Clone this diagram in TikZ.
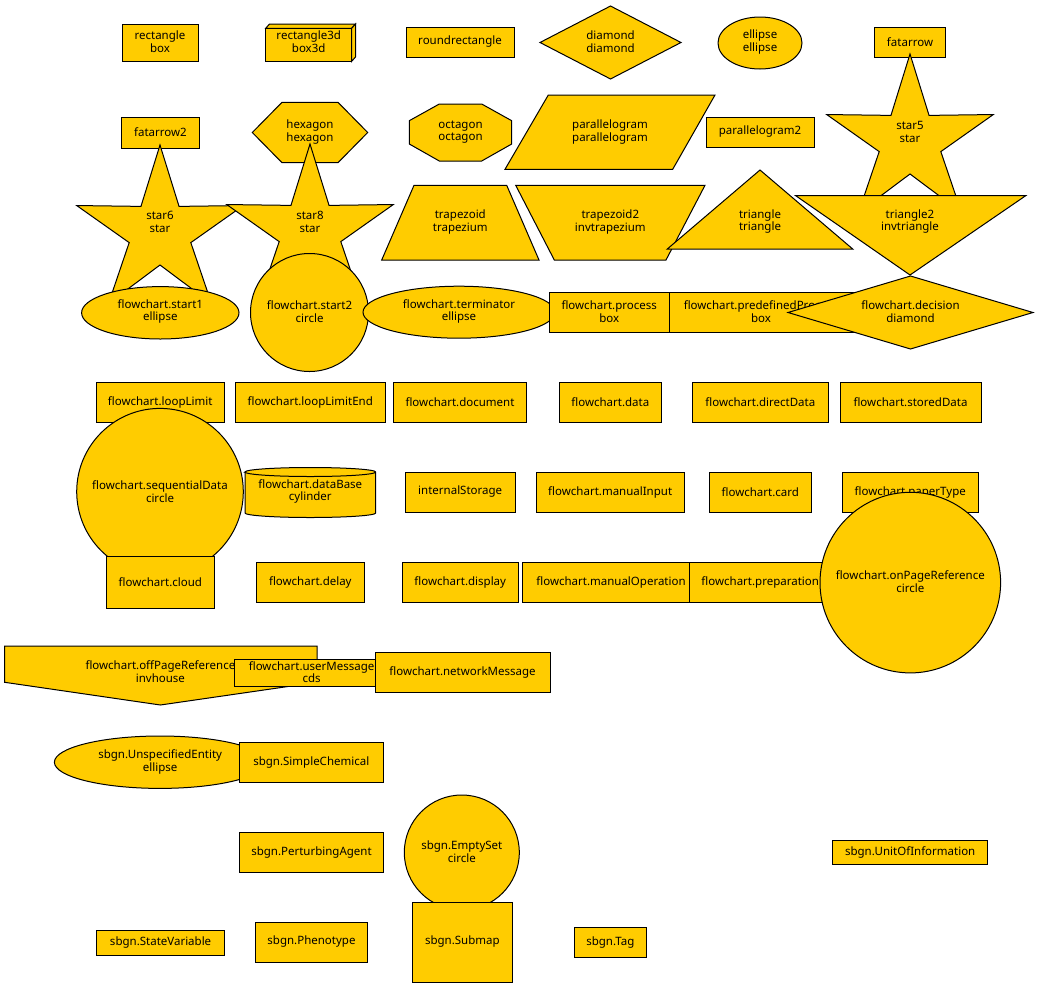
\documentclass[tikz,border=0pt]{standalone}
\usepackage{fontspec}
\setmainfont{Noto Sans}
\definecolor{gold}{HTML}{FFCC00}
\tikzset{
  shp/.style={fill=gold, draw=black, line width=1pt, line join=miter},
  lbl/.style={align=center, inner sep=0pt, text=black, font=\fontsize{11.5}{12.7}\selectfont},
}
\begin{document}
\begin{tikzpicture}[x=1pt,y=-1pt]
\useasboundingbox[fill=white] (0,0) rectangle (1038,988);
% row 1
\filldraw[shp] (122,24) rectangle (198,61.3);
\node[lbl] (t-rect) at (160,42) {rectangle\\box};
\filldraw[shp] (265.7,28.3) rectangle (351.7,61.3);
\filldraw[shp] (265.7,28.3) -- (269.5,24) -- (355.5,24) -- (351.7,28.3) -- cycle;
\filldraw[shp] (351.7,28.3) -- (355.5,24) -- (355.5,57) -- (351.7,61.3) -- cycle;
\node[lbl] (t-rect3d) at (308.7,42) {rectangle3d\\box3d};
\filldraw[shp] (406,27) rectangle (514,57);
\node[lbl] (t-round) at (460,42) {roundrectangle};
\filldraw[shp] (540,42.5) -- (610.5,6) -- (681,42.5) -- (610.5,79) -- cycle;
\node[lbl] (t-diamond) at (610.5,42) {diamond\\diamond};
\filldraw[shp] (760,43) ellipse [x radius=42pt, y radius=26pt];
\node[lbl] (t-ellipse) at (760,42) {ellipse\\ellipse};
\filldraw[shp] (874,27) rectangle (945.7,57.7);
\node[lbl] (t-fat) at (910,42) {fatarrow};
% row 2
\filldraw[shp] (121.7,117) rectangle (199.3,148);
\node[lbl] (t-fat2) at (160.5,132) {fatarrow2};
\filldraw[shp] (252.3,132.5) -- (282,102.3) -- (338,102.3) -- (367.7,132.5) -- (338,162.7) -- (282,162.7) -- cycle;
\node[lbl] (t-hex) at (310,132) {hexagon\\hexagon};
\filldraw[shp] (439.3,104) -- (481.7,104) -- (511.7,120.7) -- (511.7,144) -- (481.7,161) -- (439.3,161) -- (409.3,144) -- (409.3,120.7) -- cycle;
\node[lbl] (t-oct) at (460.5,132) {octagon\\octagon};
\filldraw[shp] (548.3,95) -- (715,95) -- (672.7,169.3) -- (505,169.3) -- cycle;
\node[lbl] (t-par) at (610,132) {parallelogram\\parallelogram};
\filldraw[shp] (706,117.3) rectangle (814.3,147.7);
\node[lbl] (t-par2) at (760,132) {parallelogram2};
\filldraw[shp,shift={(910,141.6)}] (90:87.6pt) -- (126:32.4pt) -- (162:87.6pt) -- (198:32.4pt) -- (234:87.6pt) -- (270:32.4pt) -- (306:87.6pt) -- (342:32.4pt) -- (18:87.6pt) -- (54:32.4pt) -- cycle;
\node[lbl] (t-star5) at (910,132) {star5\\star};
\filldraw[shp,shift={(160,232.6)}] (90:87.6pt) -- (126:32.4pt) -- (162:87.6pt) -- (198:32.4pt) -- (234:87.6pt) -- (270:32.4pt) -- (306:87.6pt) -- (342:32.4pt) -- (18:87.6pt) -- (54:32.4pt) -- cycle;
\node[lbl] (t-star6) at (160,222) {star6\\star};
\filldraw[shp,shift={(310,231.6)}] (90:87.6pt) -- (126:32.4pt) -- (162:87.6pt) -- (198:32.4pt) -- (234:87.6pt) -- (270:32.4pt) -- (306:87.6pt) -- (342:32.4pt) -- (18:87.6pt) -- (54:32.4pt) -- cycle;
\node[lbl] (t-star8) at (310,222) {star8\\star};
% row 3
\filldraw[shp] (414,185.3) -- (506.7,185.3) -- (539,260) -- (381.7,260) -- cycle;
\node[lbl] (t-trap) at (460.3,222) {trapezoid\\trapezium};
\filldraw[shp] (515.7,185.3) -- (705,185.3) -- (666,260) -- (554.3,260) -- cycle;
\node[lbl] (t-trap2) at (610.3,222) {trapezoid2\\invtrapezium};
\filldraw[shp] (760,170) -- (852.7,249) -- (667.3,249) -- cycle;
\node[lbl] (t-tri) at (760,221.5) {triangle\\triangle};
\filldraw[shp] (795.7,195.7) -- (1025.7,195.7) -- (910,275) -- cycle;
\node[lbl] (t-tri2) at (910,221.5) {triangle2\\invtriangle};
% row 4
\filldraw[shp] (160.3,312.8) ellipse [x radius=78.7pt, y radius=26.2pt];
\node[lbl] (t-start1) at (160.3,311.5) {flowchart.start1\\ellipse};
\filldraw[shp] (309.5,312.5) circle [radius=59pt];
\node[lbl] (t-start2) at (309.5,311.5) {flowchart.start2\\circle};
\filldraw[shp] (459,312.2) ellipse [x radius=96pt, y radius=26pt];
\node[lbl] (t-term) at (459,311.5) {flowchart.terminator\\ellipse};
\filldraw[shp] (549.3,292.7) rectangle (669,332.7);
\node[lbl] (t-proc) at (609.2,311.5) {flowchart.process\\box};
\filldraw[shp] (669,292.7) rectangle (853,332.7);
\node[lbl] (t-predef) at (761,311.5) {flowchart.predefinedProcess\\box};
\filldraw[shp] (788,312.5) -- (910.5,276) -- (1033,312.5) -- (910.5,349) -- cycle;
\node[lbl] (t-dec) at (910.5,311.5) {flowchart.decision\\diamond};
% row 5
\filldraw[shp] (96,382.7) rectangle (224.3,422.7);
\node[lbl] (t-loop) at (160.2,402) {flowchart.loopLimit};
\filldraw[shp] (235.7,382.7) rectangle (385,422.7);
\node[lbl] (t-loopend) at (310.3,402) {flowchart.loopLimitEnd};
\filldraw[shp] (393.3,382.7) rectangle (526.7,422.7);
\node[lbl] (t-doc) at (460,402) {flowchart.document};
\filldraw[shp] (559,382.7) rectangle (661.7,422.7);
\node[lbl] (t-data) at (610.3,402) {flowchart.data};
\filldraw[shp] (692.3,382.7) rectangle (828.3,422.7);
\node[lbl] (t-direct) at (760.3,402) {flowchart.directData};
\filldraw[shp] (840,382.7) rectangle (981,422.7);
\node[lbl] (t-stored) at (910.5,402) {flowchart.storedData};
% row 6
\filldraw[shp] (160,491.7) circle [radius=83.3pt];
\node[lbl] (t-seq) at (160,491.5) {flowchart.sequentialData\\circle};
\filldraw[shp] (245,472) -- (245,513) arc [start angle=180, end angle=360, x radius=65.35pt, y radius=4.5pt] -- (375.7,472) arc [start angle=0, end angle=180, x radius=65.35pt, y radius=4.5pt] -- cycle;
\draw[shp,fill=none] (245,472) arc [start angle=180, end angle=360, x radius=65.35pt, y radius=4.5pt];
\node[lbl] (t-db) at (310.3,491.5) {flowchart.dataBase\\cylinder};
\filldraw[shp] (405.3,472.7) rectangle (515,512.7);
\node[lbl] (t-int) at (460.2,492) {internalStorage};
\filldraw[shp] (536,472.7) rectangle (684.3,512.7);
\node[lbl] (t-manin) at (610.2,492) {flowchart.manualInput};
\filldraw[shp] (709,472.7) rectangle (811.7,512.7);
\node[lbl] (t-card) at (760.3,492) {flowchart.card};
\filldraw[shp] (842,472.7) rectangle (978.3,512.7);
\node[lbl] (t-paper) at (910.2,492) {flowchart.paperType};
% row 7
\filldraw[shp] (106.7,556.7) rectangle (214,608.3);
\node[lbl] (t-cloud) at (160.3,582) {flowchart.cloud};
\filldraw[shp] (256.7,562.7) rectangle (364,602.7);
\node[lbl] (t-delay) at (310.3,582) {flowchart.delay};
\filldraw[shp] (402,562.7) rectangle (518.3,602.7);
\node[lbl] (t-disp) at (460.2,582) {flowchart.display};
\filldraw[shp] (522.7,562.7) rectangle (689.3,602.7);
\node[lbl] (t-manop) at (611,582) {flowchart.manualOperation};
\filldraw[shp] (689.3,562.7) rectangle (831,602.7);
\node[lbl] (t-prep) at (760.2,582) {flowchart.preparation};
\filldraw[shp] (910.3,582.6) circle [radius=90.3pt];
\node[lbl] (t-onpage) at (910.3,581.5) {flowchart.onPageReference\\circle};
% row 8
\filldraw[shp] (4.7,646) -- (317,646) -- (317,682.3) -- (160.4,705) -- (4.7,682.3) -- cycle;
\node[lbl] (t-offpage) at (160.4,671.5) {flowchart.offPageReference\\invhouse};
\filldraw[shp] (234.4,659.3) rectangle (388.8,686);
\node[lbl] (t-user) at (311.6,672) {flowchart.userMessage\\cds};
\filldraw[shp] (375,652.3) rectangle (550,692.3);
\node[lbl] (t-net) at (462.5,672) {flowchart.networkMessage};
% row 9
\filldraw[shp] (160,762.2) ellipse [x radius=105.6pt, y radius=26.2pt];
\node[lbl] (t-unspec) at (160.2,762) {sbgn.UnspecifiedEntity\\ellipse};
\filldraw[shp] (239.2,742.7) rectangle (383.5,782.7);
\node[lbl] (t-simple) at (311.3,762) {sbgn.SimpleChemical};
% row 10
\filldraw[shp] (239.2,832.7) rectangle (383.9,872.7);
\node[lbl] (t-perturb) at (311.5,852) {sbgn.PerturbingAgent};
\filldraw[shp] (461.8,852.5) circle [radius=57.5pt];
\node[lbl] (t-empty) at (461.8,852) {sbgn.EmptySet\\circle};
\filldraw[shp] (832.7,840.7) rectangle (987.7,864.3);
\node[lbl] (t-unit) at (910.2,852) {sbgn.UnitOfInformation};
% row 11
\filldraw[shp] (96.7,930.3) rectangle (224.5,955);
\node[lbl] (t-state) at (160.6,942) {sbgn.StateVariable};
\filldraw[shp] (255.7,922.3) rectangle (367.4,962.3);
\node[lbl] (t-pheno) at (311.5,941.8) {sbgn.Phenotype};
\filldraw[shp] (412.6,902.3) rectangle (512,982);
\node[lbl] (t-submap) at (462.3,941.5) {sbgn.Submap};
\filldraw[shp] (574.7,927.3) rectangle (646,957.7);
\node[lbl] (t-tag) at (610.3,942) {sbgn.Tag};
\end{tikzpicture}
\end{document}
